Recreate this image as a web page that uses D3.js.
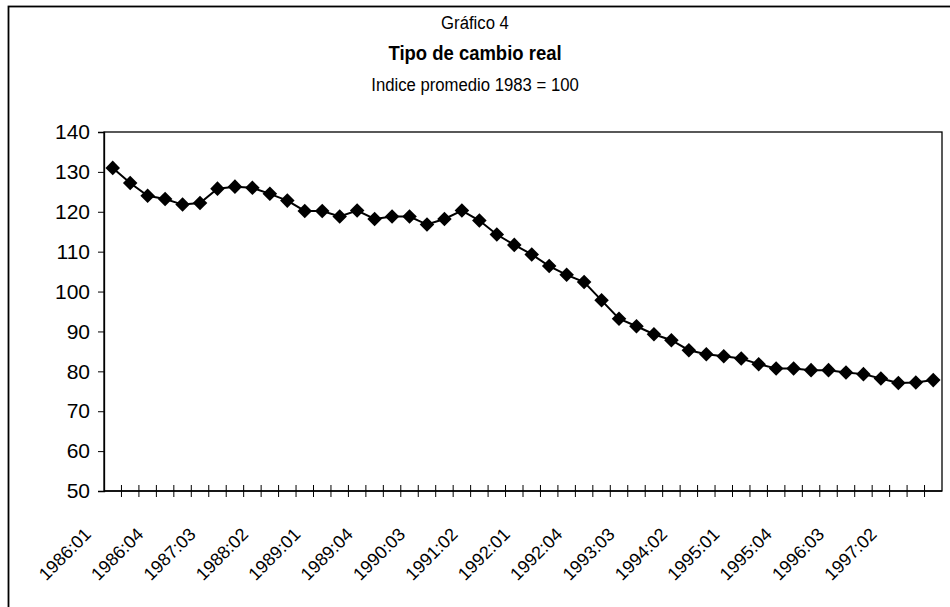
<!DOCTYPE html>
<html>
<head>
<meta charset="utf-8">
<script src="https://cdn.jsdelivr.net/npm/d3@7"></script>
<style>
  body { margin: 0; background: #fff; }
  text { font-family: "Liberation Sans", Arial, sans-serif; fill: #000; }
</style>
</head>
<body>
<div id="grafico"></div>
<script>
// Periodos trimestrales
var periodos = [
  "1986:01","1986:02","1986:03","1986:04","1987:01","1987:02","1987:03","1987:04",
  "1988:01","1988:02","1988:03","1988:04","1989:01","1989:02","1989:03","1989:04",
  "1990:01","1990:02","1990:03","1990:04","1991:01","1991:02","1991:03","1991:04",
  "1992:01","1992:02","1992:03","1992:04","1993:01","1993:02","1993:03","1993:04",
  "1994:01","1994:02","1994:03","1994:04","1995:01","1995:02","1995:03","1995:04",
  "1996:01","1996:02","1996:03","1996:04","1997:01","1997:02","1997:03","1997:04"
];

// Indice tipo de cambio real (promedio 1983 = 100)
var indice = [
  131.0, 127.2, 124.0, 123.2, 121.8, 122.2, 125.8, 126.3,
  126.0, 124.5, 122.8, 120.2, 120.2, 118.8, 120.3, 118.2,
  118.8, 118.8, 116.8, 118.2, 120.3, 117.8, 114.3, 111.7,
  109.3, 106.4, 104.2, 102.4, 97.8, 93.2, 91.3, 89.3,
  87.8, 85.3, 84.3, 83.8, 83.2, 81.8, 80.7, 80.7,
  80.3, 80.3, 79.7, 79.3, 78.2, 77.1, 77.2, 77.8
];

// Etiquetas visibles del eje x (cada tres trimestres)
var etiquetasX = [
  "1986:01","1986:04","1987:03","1988:02","1989:01","1989:04","1990:03","1991:02",
  "1992:01","1992:04","1993:03","1994:02","1995:01","1995:04","1996:03","1997:02"
];

var ticksY = [50, 60, 70, 80, 90, 100, 110, 120, 130, 140];

var svg = d3.select("#grafico").append("svg")
  .attr("width", 950)
  .attr("height", 607);

// Marco exterior
svg.append("rect")
  .attr("x", 8.5).attr("y", 6.5)
  .attr("width", 960).attr("height", 620)
  .attr("fill", "none").attr("stroke", "#000").attr("stroke-width", 1.8);

// Titulos (letra algo estrecha y alta, como en el original)
function titulo(texto, yy, tam, negrita) {
  svg.append("text")
    .attr("transform", "translate(475," + yy + ") scale(0.88,1)")
    .attr("text-anchor", "middle")
    .attr("font-size", tam)
    .attr("font-weight", negrita ? "bold" : "normal")
    .text(texto);
}
titulo("Gráfico 4", 29, 19, false);
titulo("Tipo de cambio real", 60, 21, true);
titulo("Indice promedio 1983 = 100", 91, 19, false);

var izq = 104, der = 942, arriba = 132, abajo = 491;

var x = d3.scaleBand().domain(periodos).range([izq, der]).padding(0);
var y = d3.scaleLinear().domain([50, 140]).range([abajo, arriba]);

// Borde del area de trazado
svg.append("rect")
  .attr("x", izq).attr("y", arriba)
  .attr("width", der - izq).attr("height", abajo - arriba)
  .attr("fill", "none").attr("stroke", "#000").attr("stroke-width", 1.3);

// Eje y
var ejeY = svg.append("g")
  .attr("transform", "translate(" + izq + ",0)")
  .call(d3.axisLeft(y).tickValues(ticksY).tickSize(6).tickPadding(8));
ejeY.select(".domain").attr("stroke", "#000").attr("stroke-width", 1.3);
ejeY.selectAll(".tick line").attr("stroke", "#000");
ejeY.selectAll("text").attr("font-size", 21).attr("font-family", "Liberation Sans, Arial, sans-serif");

// Eje x: marcas en los limites de cada trimestre
var ejeX = svg.append("g");
ejeX.append("line")
  .attr("x1", izq).attr("x2", der).attr("y1", abajo).attr("y2", abajo)
  .attr("stroke", "#000").attr("stroke-width", 1.3);
ejeX.selectAll("line.marca")
  .data(periodos.slice(1))
  .enter().append("line")
  .attr("class", "marca")
  .attr("x1", function(d) { return x(d); })
  .attr("x2", function(d) { return x(d); })
  .attr("y1", abajo - 6).attr("y2", abajo + 6)
  .attr("stroke", "#000").attr("stroke-width", 1);

ejeX.selectAll("text.etiqueta")
  .data(etiquetasX)
  .enter().append("text")
  .attr("class", "etiqueta")
  .attr("font-size", 18)
  .attr("text-anchor", "end")
  .attr("transform", function(d) {
    var cx = x(d) + x.bandwidth() / 2;
    return "translate(" + (cx - 25) + "," + (abajo + 40) + ") rotate(-45)";
  })
  .attr("dy", "0.35em")
  .text(function(d) { return d; });

// Serie
var datos = periodos.map(function(p, i) { return { periodo: p, valor: indice[i] }; });

var linea = d3.line()
  .x(function(d) { return x(d.periodo) + x.bandwidth() / 2; })
  .y(function(d) { return y(d.valor); });

svg.append("path")
  .datum(datos)
  .attr("d", linea)
  .attr("fill", "none")
  .attr("stroke", "#000")
  .attr("stroke-width", 2);

var rombo = d3.symbol().type(d3.symbolDiamond2).size(135);

svg.selectAll("path.marcador")
  .data(datos)
  .enter().append("path")
  .attr("class", "marcador")
  .attr("d", rombo)
  .attr("transform", function(d) {
    return "translate(" + (x(d.periodo) + x.bandwidth() / 2) + "," + y(d.valor) + ")";
  })
  .attr("fill", "#000");
</script>
</body>
</html>
